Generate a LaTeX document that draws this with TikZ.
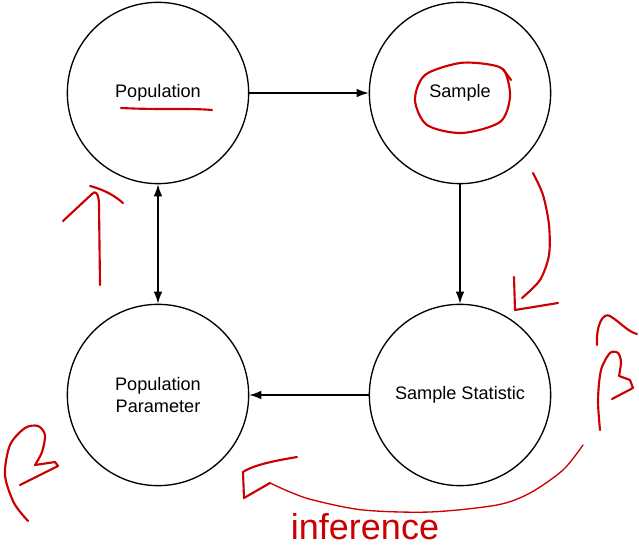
\documentclass[tikz,border=0pt]{standalone}
\usepackage{fontspec}
\setmainfont{Liberation Sans}
\usetikzlibrary{arrows.meta}
\definecolor{inkred}{RGB}{204,0,0}

\begin{document}
\begin{tikzpicture}[x=0.75pt,y=-0.75pt,
  stage/.style={draw,circle,line width=1pt,minimum size=136pt,inner sep=0pt,align=center,font=\fontsize{13.6}{16.5}\selectfont},
  flow/.style={line width=1pt,>={Latex[length=9pt,width=6.5pt]}},
  ink/.style={draw=inkred,line width=1.6pt,line cap=round,line join=round},
  thinink/.style={ink,line width=1pt}]
\useasboundingbox (0,0) rectangle (639,548);

% to draw the four stages
\node [stage] (pop) at (158,93) {Population};
\node [stage] (samp) at (460,93) {Sample};
\node [stage] (stat) at (460,395) {Sample Statistic};
\node [stage] (par) at (158,395) {Population\\Parameter};

% to draw arrows between stages
\draw [flow,->] (pop) -- (samp);
\draw [flow,->] (samp) -- (stat);
\draw [flow,->] (stat) -- (par);
\draw [flow,<->] (pop) -- (par);

% red marks: underline and ring
\draw [ink] (121,108) .. controls (160,110) and (190,108) .. (212,110);
\draw [ink] plot[smooth cycle] coordinates {(505,72) (510,97) (500,122) (462,133) (427,125) (415,100) (425,75) (460,63) (492,65)};
\draw [ink] (503,69) -- (511,80);

% red marks: arrows
\draw [ink] (100,285) -- (99,205) .. controls (99,193) and (95,190) .. (92,194) -- (63,221);
\draw [ink] (90,186) .. controls (105,190) and (115,196) .. (123,203);
\draw [ink] plot[smooth] coordinates {(533,173) (543,195) (549,225) (549,255) (540,280) (522,298)};
\draw [ink] (514,277) -- (515,310) -- (558,303);

% red marks: beta signs
\draw [ink] plot[smooth] coordinates {(28,521) (14,503) (5,475) (10,445) (25,428) (38,426) (45,435) (42,452) (35,465)}
  -- (55,462) -- (58,466) -- (20,485);
\draw [ink] (597,345) .. controls (596,325) and (603,312) .. (610,316) .. controls (620,322) and (628,332) .. (637,334);
\draw [ink] plot[smooth] coordinates {(600,430) (598,400) (601,370) (610,353) (618,353) (621,362) (619,376)}
  -- (630,380) -- (633,388) -- (612,399);

% red marks: inference arrow and text
\draw [thinink] plot[smooth] coordinates {(583,445) (563,470) (530,493) (497,505) (430,512) (363,510) (313,500) (290,492) (270,483)};
\draw [ink] (297,457) .. controls (280,460) and (255,464) .. (243,472) -- (244,498) -- (270,483);
\node (inf) [text=inkred,anchor=base,inner sep=0pt,font=\fontsize{27}{30}\selectfont] at (365,540) {inference};
\end{tikzpicture}
\end{document}
